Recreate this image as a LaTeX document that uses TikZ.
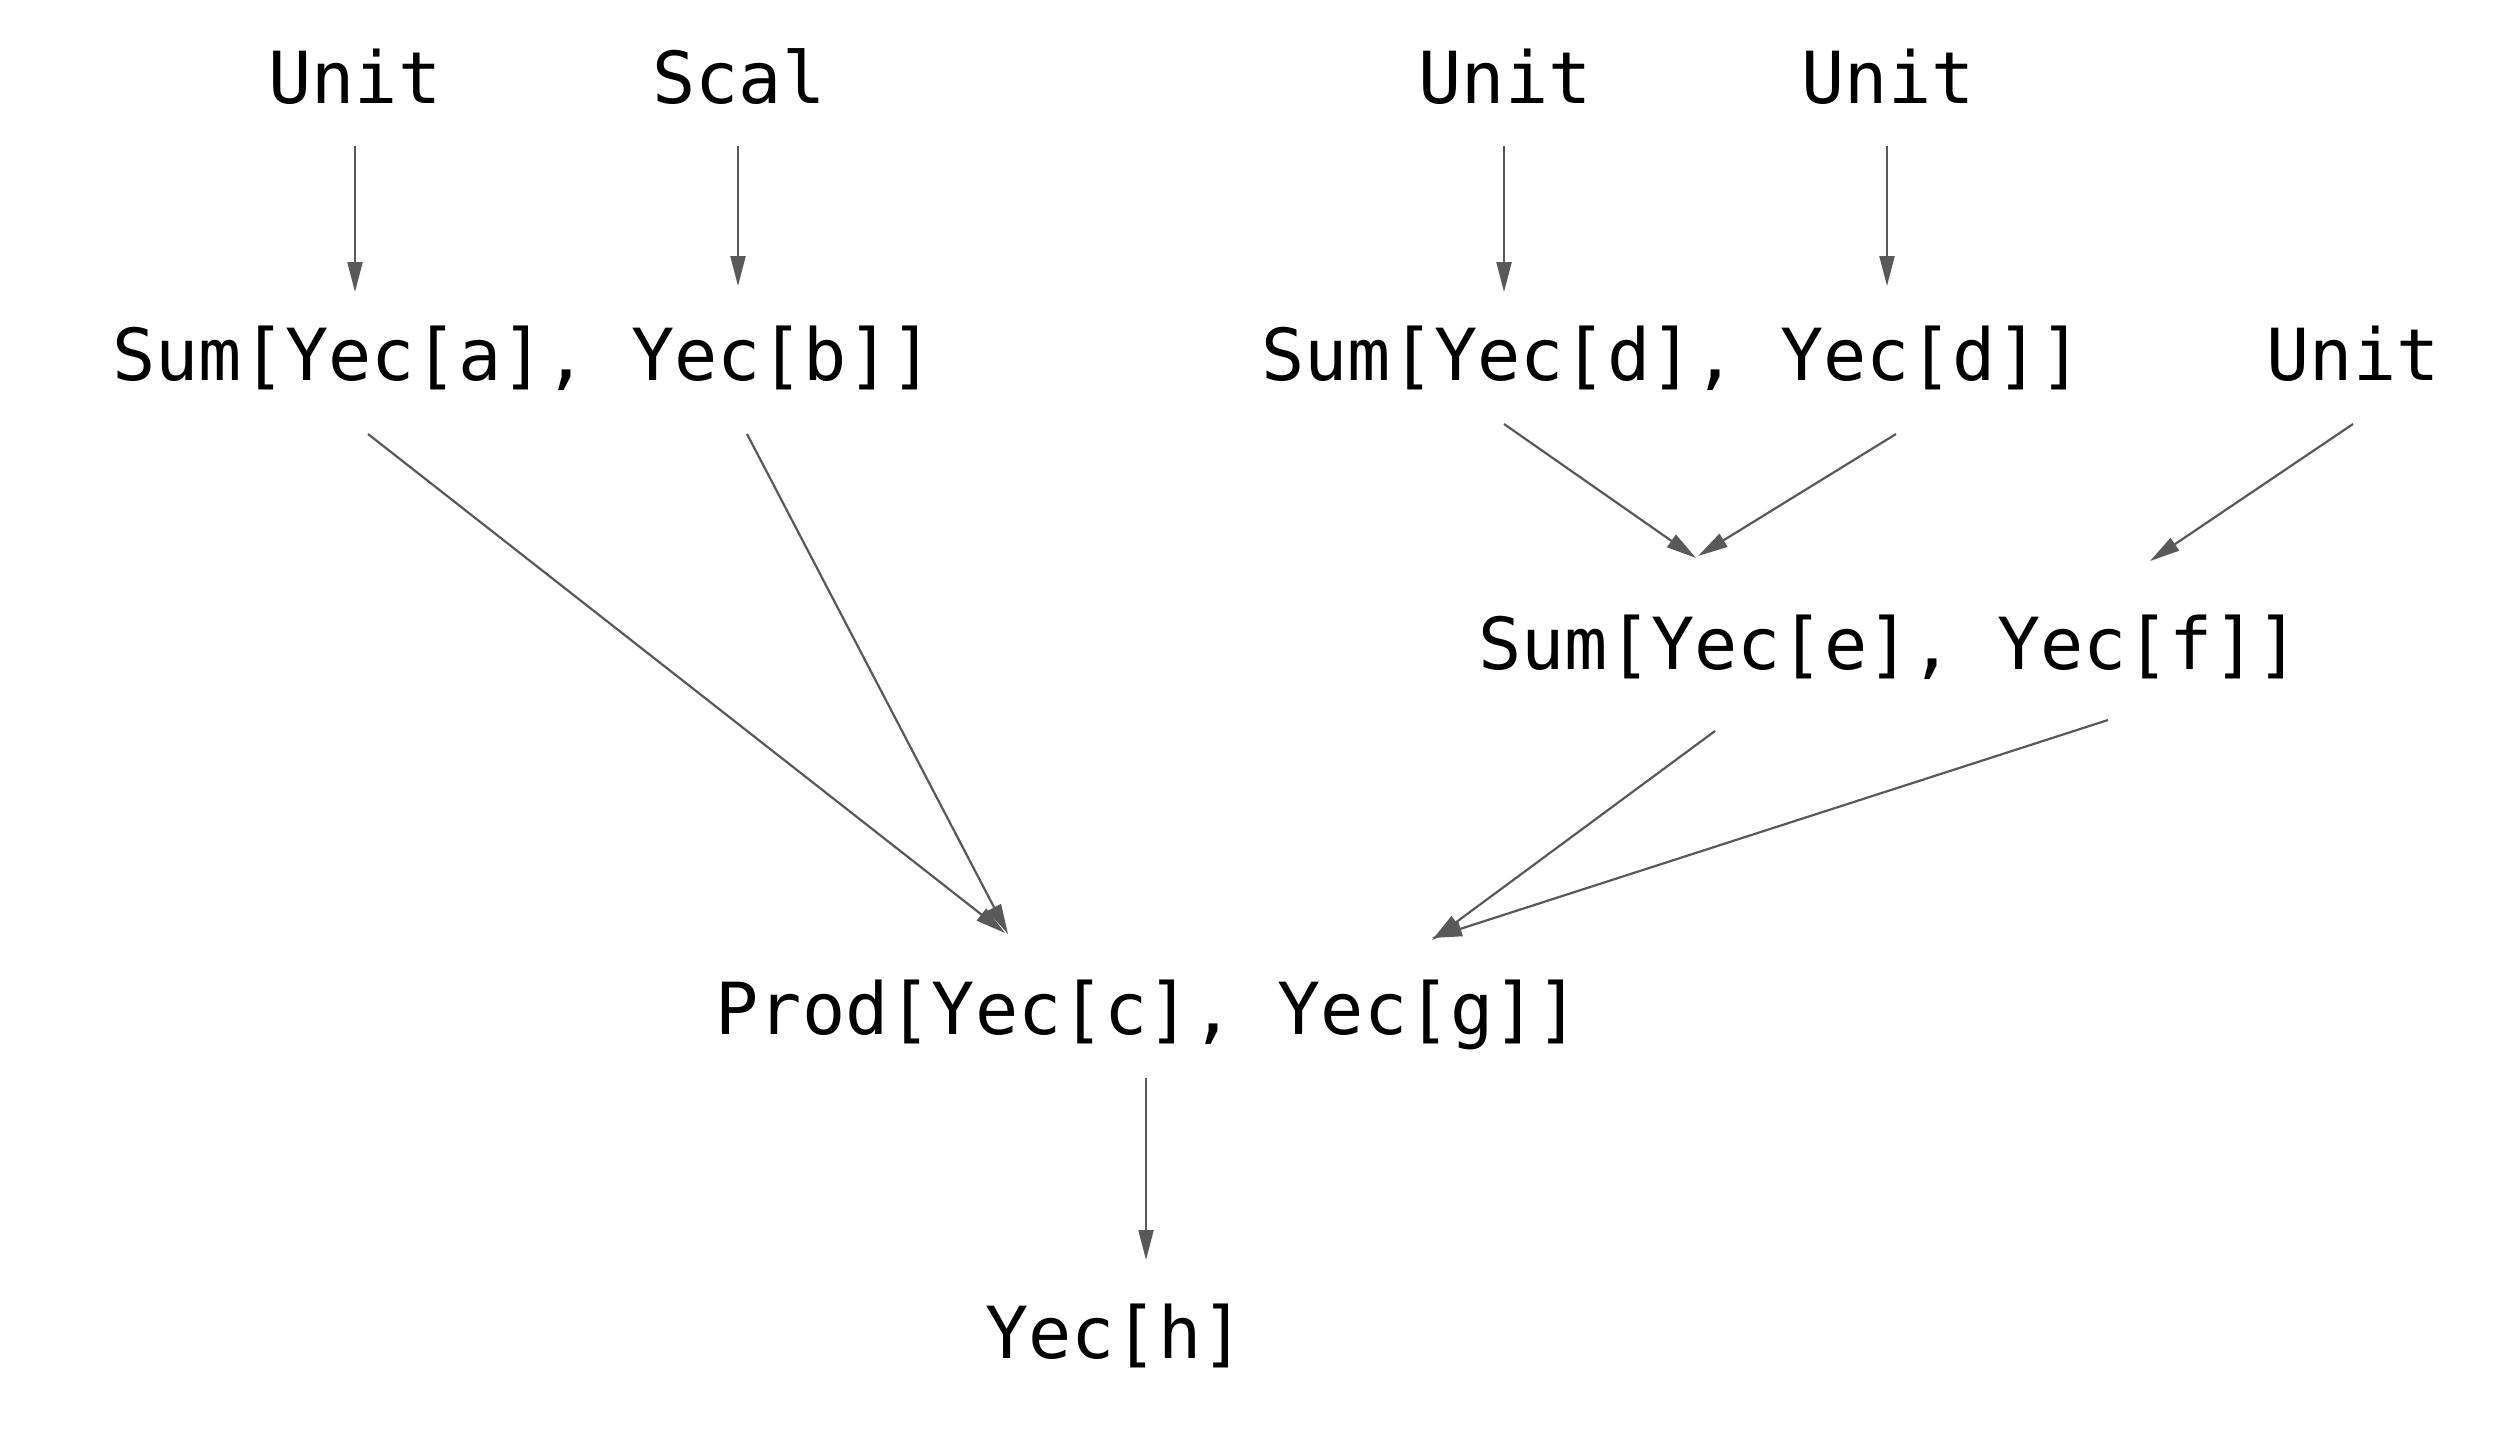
\documentclass[tikz,border=0pt]{standalone}
\usepackage{fontspec}
\setmonofont{DejaVu Sans Mono}
\usetikzlibrary{arrows.meta}
\definecolor{edgegray}{HTML}{595959}
\tikzset{
  lbl/.style={anchor=base, inner sep=0pt, font=\ttfamily\fontsize{71.8}{80}\selectfont, text=black},
  edge/.style={draw=edgegray, line width=2.2pt, -{Triangle[length=30pt,width=15pt]}}
}
\begin{document}
\begin{tikzpicture}[x=1pt,y=-1pt]
\useasboundingbox[fill=white] (0,0) rectangle (2520,1436);
% nodes
\node[lbl] (unitA) at (355,103) {Unit};
\node[lbl] (scal)  at (739,103) {Scal};
\node[lbl] (unitB) at (1505,103) {Unit};
\node[lbl] (unitC) at (1888,103) {Unit};
\node[lbl] (sumab) at (523,380) {Sum[Yec[a], Yec[b]]};
\node[lbl] (sumdd) at (1672,380) {Sum[Yec[d], Yec[d]]};
\node[lbl] (unitD) at (2353,380) {Unit};
\node[lbl] (sumef) at (1889,669) {Sum[Yec[e], Yec[f]]};
\node[lbl] (prod)  at (1148,1034) {Prod[Yec[c], Yec[g]]};
\node[lbl] (yech)  at (1115,1358) {Yec[h]};
% ports
\coordinate (unitA-out) at (355,146);
\coordinate (scal-out)  at (738,146);
\coordinate (unitB-out) at (1504,146);
\coordinate (unitC-out) at (1887,146);
\coordinate (sumab-inA) at (355,292);
\coordinate (sumab-inB) at (738,286);
\coordinate (sumdd-inA) at (1504,292);
\coordinate (sumdd-inB) at (1887,286);
\coordinate (sumab-outA) at (368,434);
\coordinate (sumab-outB) at (747,434);
\coordinate (sumdd-outA) at (1504,424);
\coordinate (sumdd-outB) at (1896,434);
\coordinate (unitD-out) at (2353,424);
\coordinate (sumef-inA) at (1696,558);
\coordinate (sumef-inB) at (1698,556);
\coordinate (sumef-inC) at (2150,561);
\coordinate (sumef-outA) at (1715,731);
\coordinate (sumef-outB) at (2108,720);
\coordinate (prod-inA) at (1005,933);
\coordinate (prod-inB) at (1008,934);
\coordinate (prod-inC) at (1432,940);
\coordinate (prod-inD) at (1432,938);
\coordinate (prod-out) at (1146,1078);
\coordinate (yech-in) at (1146,1260);
% edges
\draw[edge] (unitA-out) -- (sumab-inA);
\draw[edge] (scal-out) -- (sumab-inB);
\draw[edge] (unitB-out) -- (sumdd-inA);
\draw[edge] (unitC-out) -- (sumdd-inB);
\draw[edge] (sumab-outA) -- (prod-inA);
\draw[edge] (sumab-outB) -- (prod-inB);
\draw[edge] (sumdd-outA) -- (sumef-inA);
\draw[edge] (sumdd-outB) -- (sumef-inB);
\draw[edge] (unitD-out) -- (sumef-inC);
\draw[edge] (sumef-outA) -- (prod-inC);
\draw[edge] (sumef-outB) -- (prod-inD);
\draw[edge] (prod-out) -- (yech-in);
\end{tikzpicture}
\end{document}
